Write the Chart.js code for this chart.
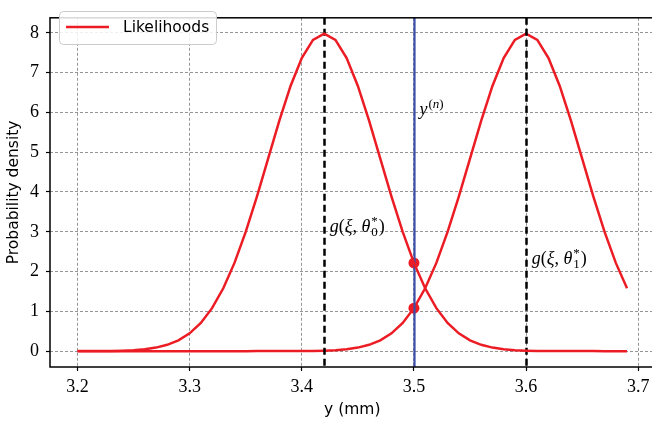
<!DOCTYPE html>
<html>
<head>
<meta charset="utf-8">
<script src="https://cdn.jsdelivr.net/npm/chart.js@4/dist/chart.umd.min.js"></script>
<style>
  html, body { margin: 0; padding: 0; overflow: hidden; background: #fff; }
  canvas { display: block; }
</style>
</head>
<body>
<canvas id="grafico" width="660" height="425"></canvas>
<script>
// valores
const yMedido = [3.20, 3.21, 3.22, 3.23, 3.24, 3.25, 3.26, 3.27, 3.28, 3.29,
                 3.30, 3.31, 3.32, 3.33, 3.34, 3.35, 3.36, 3.37, 3.38, 3.39,
                 3.40, 3.41, 3.42, 3.43, 3.44, 3.45, 3.46, 3.47, 3.48, 3.49,
                 3.50, 3.51, 3.52, 3.53, 3.54, 3.55, 3.56, 3.57, 3.58, 3.59,
                 3.60, 3.61, 3.62, 3.63, 3.64, 3.65, 3.66, 3.67, 3.68, 3.69];
const verossim0 = [0.0005, 0.0012, 0.0027, 0.0058, 0.0122, 0.0246, 0.0477, 0.0886, 0.1583, 0.2717,
                   0.4479, 0.7095, 1.080, 1.579, 2.218, 2.995, 3.884, 4.839, 5.794, 6.665,
                   7.366, 7.821, 7.979, 7.821, 7.366, 6.665, 5.794, 4.839, 3.884, 2.995,
                   2.218, 1.579, 1.080, 0.7095, 0.4479, 0.2717, 0.1583, 0.0886, 0.0477, 0.0246,
                   0.0122, 0.0058, 0.0027, 0.0012, 0.0005, 0.0002, 0.0001, 0, 0, 0];
const verossim1 = [0, 0, 0, 0, 0, 0, 0, 0, 0, 0,
                   0, 0, 0, 0, 0, 0, 0.0001, 0.0002, 0.0005, 0.0012,
                   0.0027, 0.0058, 0.0122, 0.0246, 0.0477, 0.0886, 0.1583, 0.2717, 0.4479, 0.7095,
                   1.080, 1.579, 2.218, 2.995, 3.884, 4.839, 5.794, 6.665, 7.366, 7.821,
                   7.979, 7.821, 7.366, 6.665, 5.794, 4.839, 3.884, 2.995, 2.218, 1.579];
const picos = [3.42, 3.60];
const yObservado = 3.5;
const verossimObservadas = [2.218, 1.080];
const ticksX = [3.2, 3.3, 3.4, 3.5, 3.6, 3.7];
const ticksY = [0, 1, 2, 3, 4, 5, 6, 7, 8];

const VERMELHO = '#ec1c24';
const AZUL = '#3b4fa8';
const SERIF = '"Liberation Serif", "DejaVu Serif", serif';
const SANS = '"DejaVu Sans", sans-serif';

// textos matematicos
const notas = [
    { x: 3.505, y: 6.0, tipo: 'y' },
    { x: 3.425, y: 3.0, tipo: 'g', indice: '0' },
    { x: 3.605, y: 2.2, tipo: 'g', indice: '1' }
];

function escrever(ctx, x, y, texto, italico, tamanho) {
    ctx.font = (italico ? 'italic ' : '') + tamanho + 'px ' + SERIF;
    ctx.fillText(texto, x, y);
    return x + ctx.measureText(texto).width;
}

const pluginExtras = {
    id: 'extras',
    afterDatasetDraw(chart, args) {
        if (args.index !== 1) return;
        const { ctx, chartArea, scales } = chart;
        ctx.save();
        ctx.lineWidth = 2.5;
        ctx.strokeStyle = '#000';
        ctx.setLineDash([7, 4]);
        picos.forEach(p => {
            const px = Math.round(scales.x.getPixelForValue(p)) + 0.5;
            ctx.beginPath();
            ctx.moveTo(px, chartArea.top);
            ctx.lineTo(px, chartArea.bottom);
            ctx.stroke();
        });
        ctx.setLineDash([]);
        ctx.strokeStyle = AZUL;
        ctx.lineWidth = 2.2;
        const bx = Math.round(scales.x.getPixelForValue(yObservado)) + 0.5;
        ctx.beginPath();
        ctx.moveTo(bx, chartArea.top);
        ctx.lineTo(bx, chartArea.bottom);
        ctx.stroke();
        ctx.restore();
    },
    afterDatasetsDraw(chart) {
        const { ctx, chartArea, scales } = chart;
        ctx.save();
        // textos
        ctx.fillStyle = '#000';
        ctx.textBaseline = 'alphabetic';
        notas.forEach(n => {
            let x = scales.x.getPixelForValue(n.x);
            const y = scales.y.getPixelForValue(n.y);
            if (n.tipo === 'y') {
                x = escrever(ctx, x, y + 3, 'y', true, 18);
                x = escrever(ctx, x + 1, y - 4, '(', false, 13);
                x = escrever(ctx, x, y - 4, 'n', true, 13);
                escrever(ctx, x, y - 4, ')', false, 13);
            } else {
                x = escrever(ctx, x, y, 'g', true, 18);
                x = escrever(ctx, x, y, '(', false, 18);
                x = escrever(ctx, x, y, 'ξ', true, 18);
                x = escrever(ctx, x, y, ', ', false, 18);
                x = escrever(ctx, x, y, 'θ', true, 18);
                const xs = escrever(ctx, x + 1, y - 7, '*', false, 13);
                const xi = escrever(ctx, x + 1, y + 4, n.indice, false, 13);
                escrever(ctx, Math.max(xs, xi) + 1, y, ')', false, 18);
            }
        });
        // molduras
        ctx.strokeStyle = '#000';
        ctx.lineWidth = 1.5;
        ctx.strokeRect(chartArea.left, chartArea.top, chartArea.right - chartArea.left, chartArea.bottom - chartArea.top);
        // legenda
        const lx = 59.5, ly = 11.5, lw = 157, lh = 33;
        ctx.beginPath();
        ctx.roundRect(lx, ly, lw, lh, 4);
        ctx.fillStyle = 'rgba(255,255,255,0.85)';
        ctx.fill();
        ctx.strokeStyle = '#cccccc';
        ctx.lineWidth = 1;
        ctx.stroke();
        ctx.strokeStyle = VERMELHO;
        ctx.lineWidth = 2.5;
        ctx.beginPath();
        ctx.moveTo(66, 27);
        ctx.lineTo(109, 27);
        ctx.stroke();
        ctx.fillStyle = '#000';
        ctx.font = '15.5px ' + SANS;
        ctx.textBaseline = 'middle';
        ctx.fillText(chart.data.datasets[0].label, 123, 28);
        ctx.restore();
    }
};

const eixoGrade = {
    color: '#7a7a7a',
    lineWidth: 0.8,
    drawTicks: true,
    tickLength: 4,
    tickColor: '#000',
    tickWidth: 1.2,
    tickBorderDash: []
};
const eixoBorda = { display: false, dash: [3, 2] };

new Chart(document.getElementById('grafico'), {
    type: 'line',
    data: {
        datasets: [
            {
                label: 'Likelihoods',
                data: yMedido.map((v, i) => ({ x: v, y: verossim0[i] })),
                borderColor: VERMELHO,
                borderWidth: 2.5,
                pointRadius: 0,
                tension: 0
            },
            {
                label: 'Likelihoods 1',
                data: yMedido.map((v, i) => ({ x: v, y: verossim1[i] })),
                borderColor: VERMELHO,
                borderWidth: 2.5,
                pointRadius: 0,
                tension: 0
            },
            {
                label: 'Observado',
                type: 'scatter',
                data: verossimObservadas.map(v => ({ x: yObservado, y: v })),
                backgroundColor: VERMELHO,
                borderColor: VERMELHO,
                pointRadius: 5.5,
                borderWidth: 0
            }
        ]
    },
    options: {
        responsive: false,
        animation: false,
        devicePixelRatio: 1,
        layout: { padding: { top: 3, right: 4, left: 0, bottom: 0 } },
        plugins: {
            legend: { display: false },
            tooltip: { enabled: false }
        },
        scales: {
            x: {
                type: 'linear',
                min: 3.1755,
                max: 3.7145,
                grid: eixoGrade,
                border: eixoBorda,
                afterBuildTicks: s => { s.ticks = ticksX.map(v => ({ value: v })); },
                afterFit: s => { s.height = 58; },
                ticks: {
                    color: '#000',
                    font: { family: SERIF, size: 18 },
                    padding: 5,
                    maxRotation: 0,
                    callback: v => v.toFixed(1)
                },
                title: {
                    display: true,
                    text: 'y (mm)',
                    color: '#000',
                    font: { family: SANS, size: 15.5 },
                    padding: { top: 0, bottom: 6 }
                }
            },
            y: {
                min: -0.399,
                max: 8.378,
                grid: eixoGrade,
                border: eixoBorda,
                afterBuildTicks: s => { s.ticks = ticksY.map(v => ({ value: v })); },
                afterFit: s => { s.width = 50; },
                ticks: {
                    color: '#000',
                    font: { family: SERIF, size: 18 },
                    padding: 7,
                    callback: v => String(v)
                },
                title: {
                    display: true,
                    text: 'Probability density',
                    color: '#000',
                    font: { family: SANS, size: 15.5 },
                    padding: { top: 5, bottom: 0 }
                }
            }
        }
    },
    plugins: [pluginExtras]
});
</script>
</body>
</html>
